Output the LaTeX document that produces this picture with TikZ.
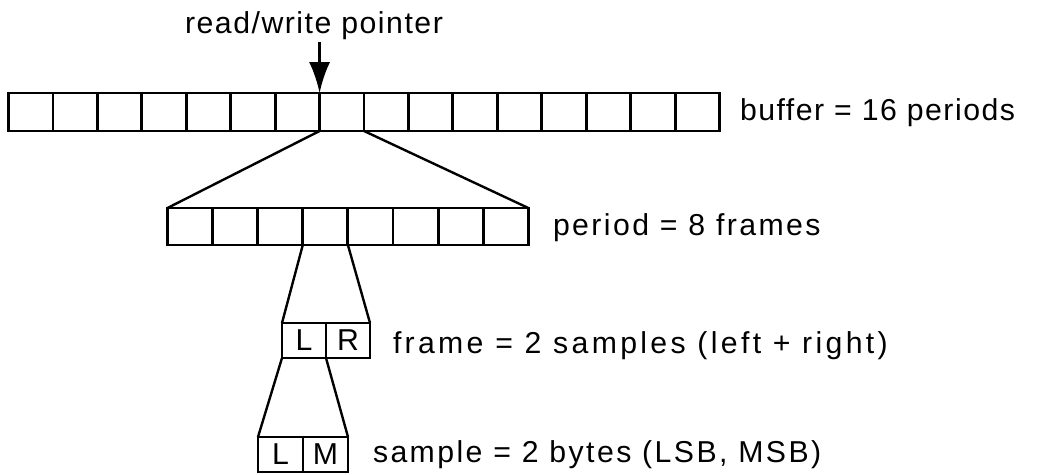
\documentclass[tikz,border=0pt]{standalone}
\usepackage{fontspec}
\setmainfont{Liberation Sans}[LetterSpace=8]
\usetikzlibrary{arrows.meta}

\begin{document}
\begin{tikzpicture}[x=0.025cm, y=-0.025cm,
    every node/.style={font=\fontsize{21.5}{24}\selectfont, inner sep=0pt, outer sep=0pt},
    cell/.style={draw, line width=2pt, minimum width=1.111cm, minimum height=0.95cm},
    fan/.style={line width=1.7pt},
    lab/.style={anchor=base west},
    tight/.style={font=\fontsize{21.5}{24}\selectfont\addfontfeature{LetterSpace=5}},
    loose/.style={font=\fontsize{21.5}{24}\selectfont\addfontfeature{LetterSpace=11}},
]
\useasboundingbox (0,0) rectangle (1056,474);

% the buffer, sixteen periods in a row
\foreach \i in {1,...,16}{
    \node[cell] (b\i) at ({8.5 + (\i-0.5)*44.44}, 112) {};}
\node[lab, tight] (buflab) at (740, 120) {buffer = 16 periods};

\node[anchor=base, tight] (ptr) at (314, 33) {read/write pointer};
\draw[line width=2pt, -{Latex[length=22pt, width=15pt]}]
    (ptr.south -| b8.north west) ++(0,3) -- (b8.north west);

% one period, eight frames
\foreach \i in {1,...,8}{
    \node[cell, minimum width=1.128cm, minimum height=0.925cm] (p\i) at ({167.5 + (\i-0.5)*45.1}, 226.5) {};}
\node[lab] (perlab) at (553, 235) {period = 8 frames};
\draw[fan] (b8.south west) -- (p1.north west);
\draw[fan] (b8.south east) -- (p8.north east);

% one frame, two samples
\node[cell, minimum width=1.1cm, minimum height=0.875cm] (fL) at (304, 340.5) {L};
\node[cell, minimum width=1.1cm, minimum height=0.875cm] (fR) at (348, 340.5) {R};
\node[lab, loose] (frmlab) at (393, 353) {frame = 2 samples (left + right)};
\draw[fan] (p4.south west) -- (fL.north west);
\draw[fan] (p4.south east) -- (fR.north east);

% one sample, two bytes
\node[cell, minimum width=1.125cm, minimum height=0.875cm] (sL) at (280.5, 454.5) {L};
\node[cell, minimum width=1.125cm, minimum height=0.875cm] (sM) at (325.5, 454.5) {M};
\node[lab] (smplab) at (373, 462) {sample = 2 bytes (LSB, MSB)};
\draw[fan] (fL.south west) -- (sL.north west);
\draw[fan] (fL.south east) -- (sM.north east);
\end{tikzpicture}
\end{document}
